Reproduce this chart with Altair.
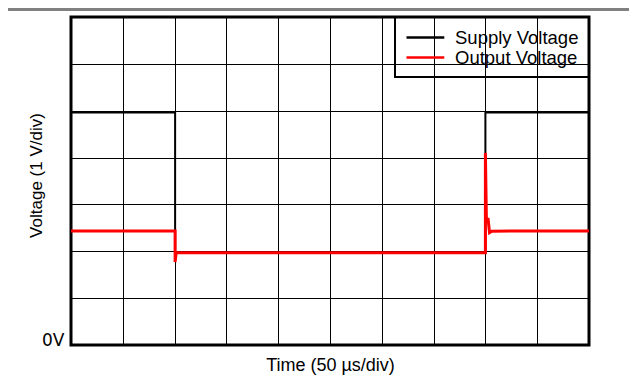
import altair as alt
import pandas as pd

# Series (time in divisions of 50 us, voltage in divisions of 1 V)
supply_t = [0.0, 2.01, 2.01, 8.0, 8.0, 10.0]
supply_v = [4.96, 4.96, 1.97, 1.97, 4.96, 4.96]

output_t = [0.0, 2.01, 2.01, 2.03, 8.0, 8.0, 8.02, 8.05, 8.08, 8.12, 10.0]
output_v = [2.435, 2.435, 1.77, 1.97, 1.97, 4.10, 2.62, 2.71, 2.40, 2.43, 2.435]

series_names = ["Supply Voltage", "Output Voltage"]
series_colors = ["black", "red"]

x_ticks = list(range(0, 11))
y_ticks = list(range(0, 8))

rows = []
for i, (t, v) in enumerate(zip(supply_t, supply_v)):
    rows.append({"t": t, "v": v, "series": series_names[0], "order": i})
for i, (t, v) in enumerate(zip(output_t, output_v)):
    rows.append({"t": t, "v": v, "series": series_names[1], "order": i})
df = pd.DataFrame(rows)

color_scale = alt.Scale(domain=series_names, range=series_colors)

x_enc = alt.X("t:Q", scale=alt.Scale(domain=[0, 10], nice=False),
              axis=alt.Axis(values=x_ticks, grid=True, labels=False, ticks=False, domain=False,
                            gridColor="black", gridWidth=1, gridOpacity=1,
                            title="Time (50 µs/div)", titleFont="Liberation Sans",
                            titleFontSize=18, titleFontWeight="normal", titleColor="black",
                            titleX=259, titleY=25, titleAlign="center",
                            titleBaseline="alphabetic"))
y_enc = alt.Y("v:Q", scale=alt.Scale(domain=[0, 7], nice=False),
              axis=alt.Axis(values=y_ticks, grid=True, ticks=False, domain=False,
                            gridColor="black", gridWidth=1, gridOpacity=1,
                            labelExpr="datum.value === 0 ? '0V' : ''",
                            labelFont="DejaVu Sans", labelFontSize=17, labelColor="black",
                            labelPadding=7, labelBaseline="alphabetic",
                            title="Voltage (1 V/div)", titleFont="Liberation Sans",
                            titleFontSize=17, titleFontWeight="normal", titleColor="black",
                            titleAngle=270, titleX=-35, titleY=158, titleAlign="center",
                            titleBaseline="middle"))

# long horizontal line symbol (about 38px long, row height 18)
legend = alt.Legend(title=None, orient="top-right", offset=0,
                    symbolType="M-1,0L3.2,0", symbolSize=324, symbolStrokeWidth=2.5,
                    labelFont="Liberation Sans", labelFontSize=18.5, labelColor="black",
                    labelOffset=29, padding=10, rowPadding=0, strokeColor="black",
                    labelLimit=300)

supply = alt.Chart(df).transform_filter(alt.datum.series == series_names[0]).mark_line(
    strokeWidth=2, interpolate="linear").encode(
    x=x_enc, y=y_enc, order="order:Q",
    color=alt.Color("series:N", scale=color_scale, legend=legend))

output = alt.Chart(df).transform_filter(alt.datum.series == series_names[1]).mark_line(
    strokeWidth=3, interpolate="linear").encode(
    x="t:Q", y="v:Q", order="order:Q",
    color=alt.Color("series:N", scale=color_scale, legend=legend))

top_rule = alt.Chart(df).mark_rule(color="#808080", strokeWidth=3).encode(
    x=alt.value(-63), x2=alt.value(558), y=alt.value(-8))

chart = alt.layer(top_rule, supply, output).properties(
    width=518, height=328,
    autosize=alt.AutoSizeParams(type="none"),
    padding={"left": 63, "top": 9, "right": 40, "bottom": 30},
).configure_view(stroke="black", strokeWidth=3).configure_legend(strokeWidth=2)

chart.save("out.html", embed_options={"renderer": "svg", "actions": False})
